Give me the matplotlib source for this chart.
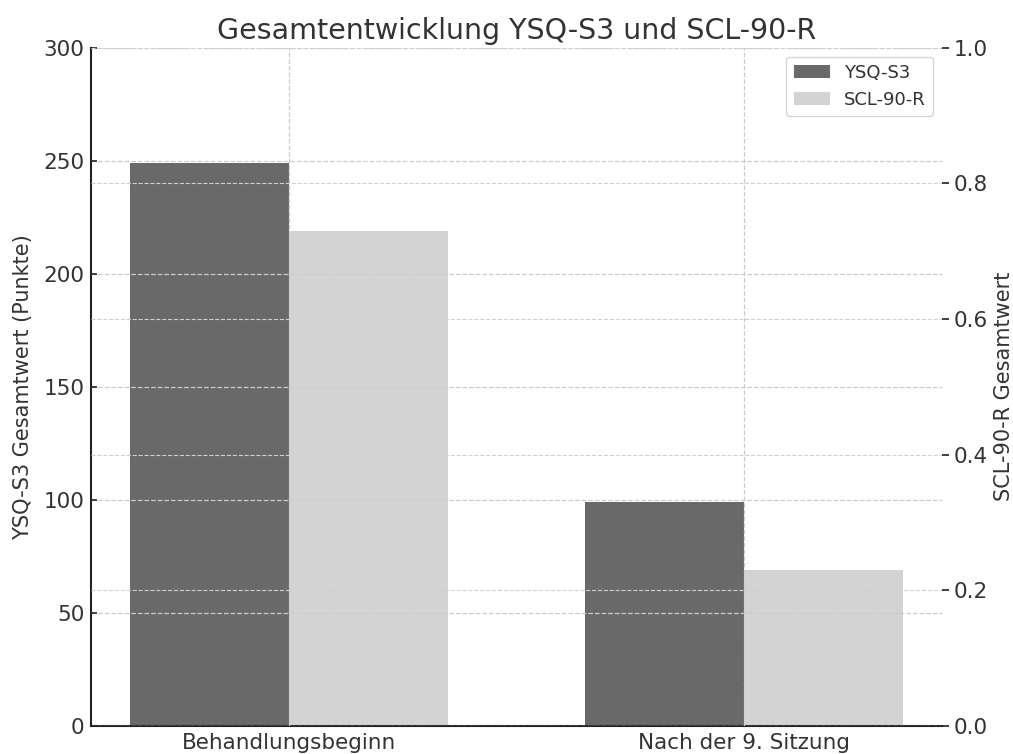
import matplotlib.pyplot as plt
import numpy as np

categories = ['Behandlungsbeginn', 'Nach der 9. Sitzung']
ysq = [249, 99]
scl = [219, 69]

plt.rcParams['text.color'] = '#333333'
plt.rcParams['xtick.color'] = '#333333'
plt.rcParams['ytick.color'] = '#333333'
plt.rcParams['axes.labelcolor'] = '#333333'

x = np.arange(len(categories))
w = 0.35

fig, ax = plt.subplots(figsize=(10.13, 7.54), dpi=100)
ax.bar(x - w/2, ysq, w, color='#696969', label='YSQ-S3')
ax.bar(x + w/2, scl, w, color='#d3d3d3', label='SCL-90-R')
ax.set_ylim(0, 300)
ax.set_xticks(x)
ax.set_xticklabels(categories, fontsize=15.5)
ax.tick_params(axis='x', length=0, pad=5)
ax.tick_params(axis='y', labelsize=15.5, direction='in', length=4, width=1.2,
               color='#222222', pad=5)
ax.set_ylabel('YSQ-S3 Gesamtwert (Punkte)', fontsize=15, labelpad=7)
ax.set_title('Gesamtentwicklung YSQ-S3 und SCL-90-R', fontsize=20.5, pad=6)
ax.grid(True, linestyle='--', color='#cccccc', linewidth=0.9)
ax.set_axisbelow(False)
for s in ['top', 'right']:
    ax.spines[s].set_visible(False)
for s in ['left', 'bottom']:
    ax.spines[s].set_linewidth(1.5)
    ax.spines[s].set_color('#222222')

ax2 = ax.twinx()
ax2.set_ylim(0, 1.0)
ax2.set_ylabel('SCL-90-R Gesamtwert', fontsize=15, labelpad=4)
ax2.tick_params(axis='y', labelsize=15.5, length=5, width=1.2, color='#222222')
ax2.grid(True, linestyle='--', color='#d0d0d0', linewidth=0.8)
for s in ['top', 'right', 'left', 'bottom']:
    ax2.spines[s].set_visible(False)

h, l = ax.get_legend_handles_labels()
ax2.legend(h, l, loc='upper right', fontsize=13)

fig.subplots_adjust(left=0.09, right=0.93, top=0.937, bottom=0.037)
fig.savefig('out.png')
